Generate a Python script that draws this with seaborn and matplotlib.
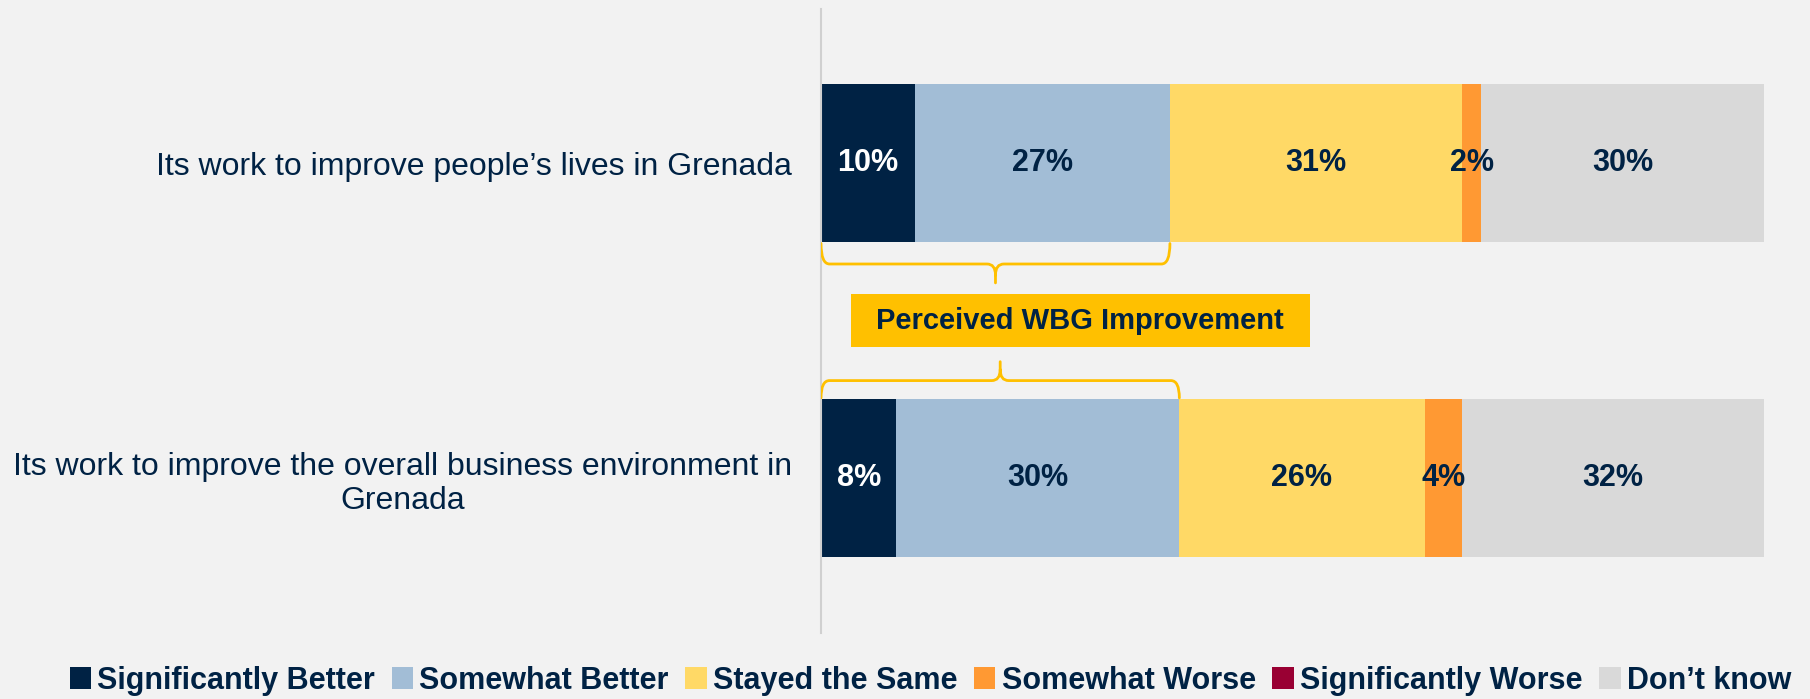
import numpy as np
import pandas as pd
import matplotlib
matplotlib.use("Agg")
import matplotlib.pyplot as plt
import seaborn as sns
from matplotlib.patches import Patch, Rectangle, PathPatch
from matplotlib.path import Path

# data
questions = ["Its work to improve people\u2019s lives in Grenada",
             "Its work to improve the overall business environment in\nGrenada"]
categories = ["Significantly Better", "Somewhat Better", "Stayed the Same",
              "Somewhat Worse", "Significantly Worse", "Don\u2019t know"]
significantly_better = [10, 8]
somewhat_better = [27, 30]
stayed_same = [31, 26]
somewhat_worse = [2, 4]
significantly_worse = [0, 0]
dont_know = [30, 32]

colors = ["#002244", "#A2BDD6", "#FFD966", "#FF9933", "#990033", "#D9D9D9"]
label_colors = ["white", "#002244", "#002244", "#002244", "#002244", "#002244"]
NAVY = "#002244"
GOLD = "#FFC000"
BG = "#F2F2F2"
BOLD_FONT = ["Liberation Sans", "DejaVu Sans"]

series = [significantly_better, somewhat_better, stayed_same,
          somewhat_worse, significantly_worse, dont_know]
df = pd.DataFrame({c: v for c, v in zip(categories, series)}, index=questions)
cum = df.cumsum(axis=1)

sns.set_theme(style="white")
plt.rcParams["font.family"] = ["Liberation Sans", "DejaVu Sans"]

fig = plt.figure(figsize=(18.10, 6.99), dpi=100, facecolor=BG)
ax = fig.add_axes([0.4536, 0.094, 0.521, 0.893])
ax.set_facecolor(BG)

# stacked bars: draw cumulative totals from the widest down
for i in range(len(categories) - 1, -1, -1):
    sns.barplot(x=cum.iloc[:, i].values, y=questions, orient="h",
                color=colors[i], width=0.5, saturation=1, linewidth=0, ax=ax)

# value labels
for r, q in enumerate(questions):
    for i, c in enumerate(categories):
        v = df.loc[q, c]
        if v <= 0:
            continue
        xc = cum.loc[q, c] - v / 2
        ax.text(xc, r, f"{v}%", ha="center", va="center", fontsize=22,
                fontweight="bold", color=label_colors[i], family=BOLD_FONT)


def draw_brace(ax, x0, x1, y_edge, y_h, y_tip):
    dx = 0.9
    xm = (x0 + x1) / 2
    s = np.sign(y_tip - y_edge)
    dy = 0.035 * s
    verts = [(x0, y_edge), (x0, y_h), (x0 + dx, y_h),
             (xm - dx, y_h), (xm, y_h), (xm, y_h + dy),
             (xm, y_tip), (xm, y_h + dy), (xm, y_h), (xm + dx, y_h),
             (x1 - dx, y_h), (x1, y_h), (x1, y_edge)]
    codes = [Path.MOVETO, Path.CURVE3, Path.CURVE3,
             Path.LINETO, Path.CURVE3, Path.CURVE3,
             Path.LINETO, Path.MOVETO, Path.CURVE3, Path.CURVE3,
             Path.LINETO, Path.CURVE3, Path.CURVE3]
    ax.add_patch(PathPatch(Path(verts, codes), fill=False, edgecolor=GOLD,
                           lw=2, capstyle="round", zorder=5))


better_top = significantly_better[0] + somewhat_better[0]
better_bot = significantly_better[1] + somewhat_better[1]
draw_brace(ax, 0, better_top, 0.255, 0.32, 0.38)
draw_brace(ax, 0, better_bot, 0.745, 0.69, 0.63)

ax.add_patch(Rectangle((3.2, 0.416), 48.7, 0.168, facecolor=GOLD,
                       edgecolor="none", zorder=5))
ax.text(27.5, 0.5, "Perceived WBG Improvement", ha="center", va="center",
        fontsize=21, fontweight="bold", color=NAVY, family=BOLD_FONT, zorder=6)

ax.set_xlim(0, 100)
ax.set_ylim(1.492, -0.489)
ax.set_xticks([])
ax.set_xlabel("")
ax.set_ylabel("")
ax.tick_params(axis="y", length=0, pad=21, labelsize=23, labelcolor=NAVY)
for t in ax.get_yticklabels():
    t.set_multialignment("center")
sns.despine(ax=ax, top=True, right=True, bottom=True, left=False)
ax.spines["left"].set_color("#D0D0D0")
ax.spines["left"].set_linewidth(1.5)

handles = [Patch(facecolor=c, edgecolor="none") for c in colors]
fig.legend(handles, categories, loc="center", bbox_to_anchor=(0.514, 0.026),
           ncol=6, frameon=False, handlelength=0.7, handleheight=0.7,
           handletextpad=0.2, columnspacing=0.55,
           prop={"family": BOLD_FONT, "weight": "bold", "size": 22},
           labelcolor=NAVY)

fig.savefig("out.png", dpi=100, facecolor=BG)
